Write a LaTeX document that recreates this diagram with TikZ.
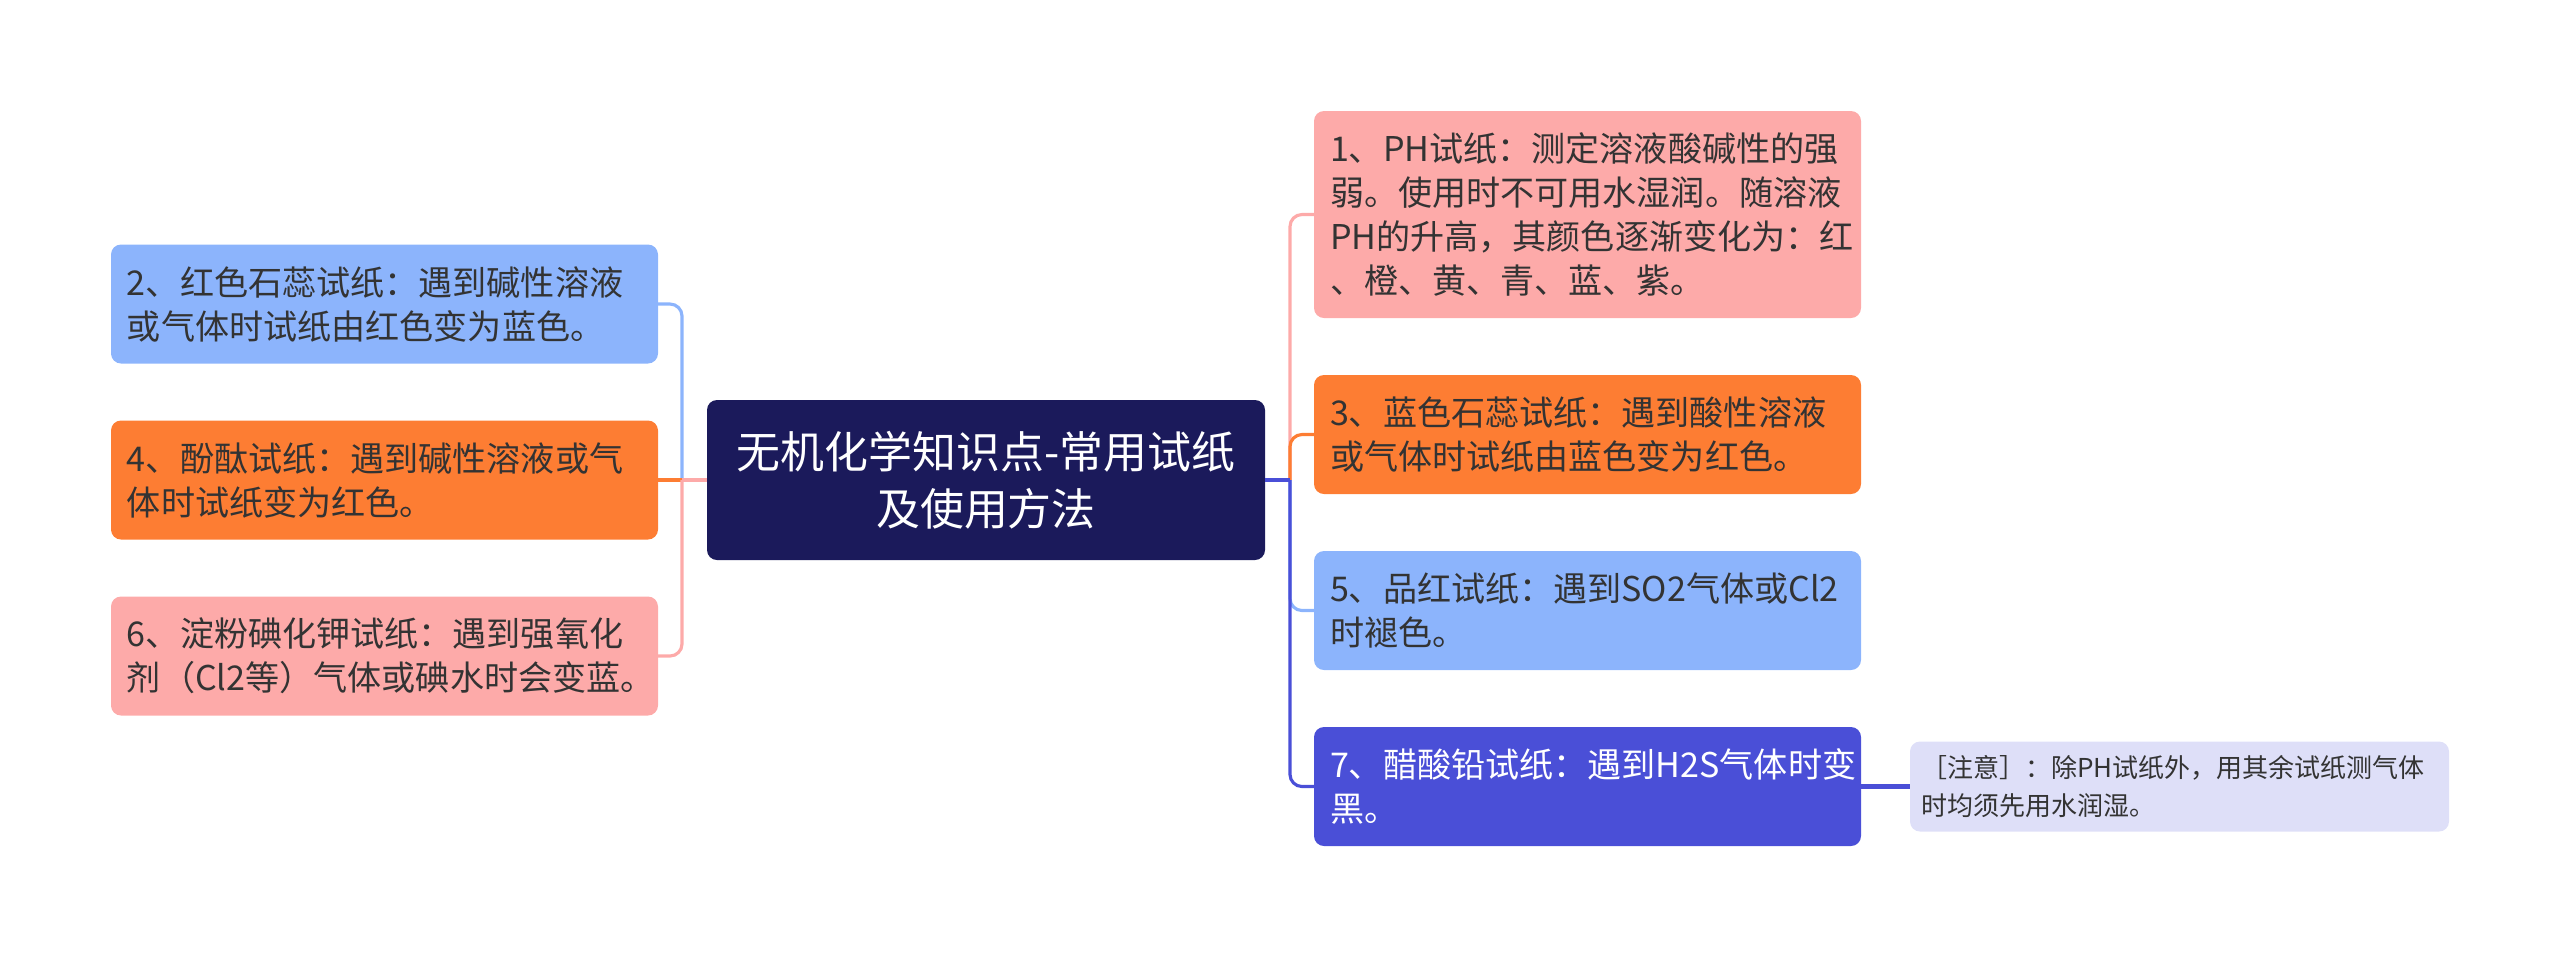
\documentclass[tikz,border=0pt]{standalone}
\usepackage{fontspec}
\setmainfont{Noto Sans CJK SC}
\usepackage{tikz}
\usetikzlibrary{positioning}

\definecolor{rootnavy}{HTML}{1B1A5B}
\definecolor{skyblue}{HTML}{8CB4FC}
\definecolor{tangerine}{HTML}{FD7D33}
\definecolor{blush}{HTML}{FDAAA9}
\definecolor{indigo}{HTML}{4A4FD7}
\definecolor{lavender}{HTML}{DEDFF8}
\definecolor{inkgrey}{HTML}{333333}

\begin{document}
\begin{tikzpicture}[node distance=0.57cm, semithick]
  \tikzstyle{topic}=[rounded corners=0.1cm, text width=5.15cm, inner xsep=0.16cm, outer sep=0pt,
                     align=left, minimum height=1.19cm, text=inkgrey,
                     font=\fontsize{9.7pt}{12.5pt}\selectfont]
  \tikzstyle{rootbox}=[rounded corners=0.1cm, fill=rootnavy, text=white, text width=5.3cm,
                       inner xsep=0.14cm, outer sep=0pt, align=center, minimum height=1.6cm,
                       font=\fontsize{12.5pt}{16.2pt}\selectfont]
  \tikzstyle{notebox}=[rounded corners=0.1cm, fill=lavender, text=inkgrey, text width=5.17cm,
                       inner xsep=0.11cm, outer sep=0pt, align=left, minimum height=0.9cm,
                       font=\fontsize{7.4pt}{10.7pt}\selectfont]
  \tikzstyle{branch}=[rounded corners=0.12cm, line width=0.9pt]

  \useasboundingbox (0,0) rectangle (25.6,-9.6);

  \node[rootbox] (root) at (9.86,-4.80) {无机化学知识点-常用试纸\\及使用方法};

  % left side
  \node[topic,fill=tangerine] (L4) [left=0.49cm of root] {4、酚酞试纸：遇到碱性溶液或气\\体时试纸变为红色。};
  \node[topic,fill=skyblue]   (L2) [above=of L4] {2、红色石蕊试纸：遇到碱性溶液\\或气体时试纸由红色变为蓝色。};
  \node[topic,fill=blush]     (L6) [below=of L4] {6、淀粉碘化钾试纸：遇到强氧化\\剂（Cl2等）气体或碘水时会变蓝。};

  % right side
  \node[topic,fill=blush,minimum height=2.07cm,anchor=north west] (R1) at (13.14,-1.11)
       {1、PH试纸：测定溶液酸碱性的强\\弱。使用时不可用水湿润。随溶液\\PH的升高，其颜色逐渐变化为：红\\、橙、黄、青、蓝、紫。};
  \node[topic,fill=tangerine] (R3) [below=of R1] {3、蓝色石蕊试纸：遇到酸性溶液\\或气体时试纸由蓝色变为红色。};
  \node[topic,fill=skyblue]   (R5) [below=of R3] {5、品红试纸：遇到SO2气体或Cl2\\时褪色。};
  \node[topic,fill=indigo,text=white] (R7) [below=of R5] {7、醋酸铅试纸：遇到H2S气体时变\\黑。};
  \node[notebox] (N) [right=0.49cm of R7] {［注意］：除PH试纸外，用其余试纸测气体\\时均须先用水润湿。};

  % connectors
  \coordinate[left=0.25cm of root] (lj);
  \coordinate[right=0.25cm of root] (rj);
  \draw[branch,skyblue]   (lj) |- (L2.east);
  \draw[branch,tangerine] (lj) -- (L4.east);
  \draw[branch,blush]     (lj) |- (L6.east);
  \draw[branch,blush]     (root.west) -- (lj);
  \draw[branch,blush]     (rj) |- (R1.west);
  \draw[branch,tangerine] (rj) |- (R3.west);
  \draw[branch,skyblue]   (rj) |- (R5.west);
  \draw[branch,indigo]    (rj) |- (R7.west);
  \draw[branch,indigo]    (root.east) -- (rj);
  \draw[indigo,line width=1.6pt] (R7.east) -- (N.west);
\end{tikzpicture}
\end{document}
